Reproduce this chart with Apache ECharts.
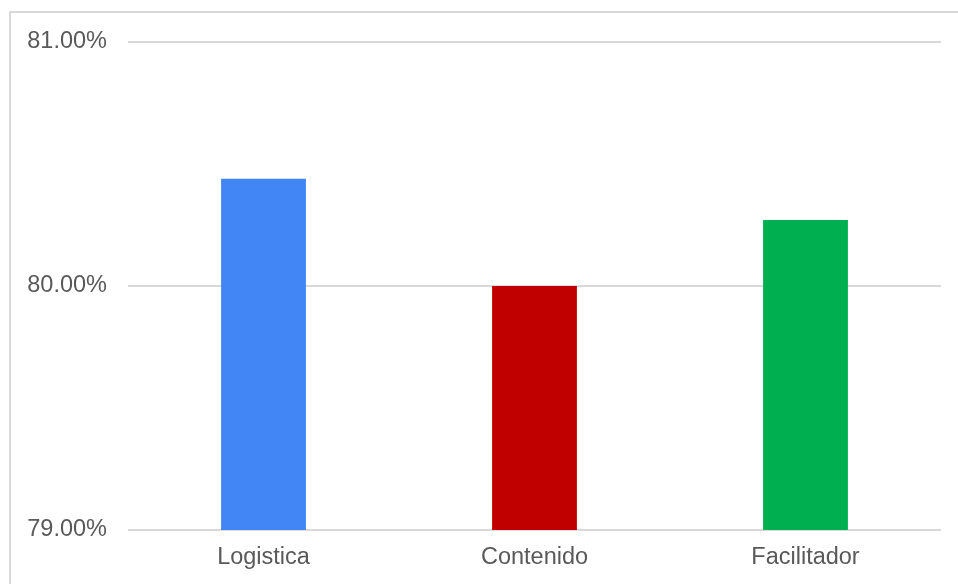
<!DOCTYPE html>
<html>
<head>
<meta charset="utf-8">
<script src="https://cdn.jsdelivr.net/npm/echarts@6/dist/echarts.min.js"></script>
<style>
  html, body { margin: 0; padding: 0; background: #fff; }
  #chart { position: absolute; left: 0; top: 0; width: 958px; height: 584px; }
  #frame { position: absolute; left: 9px; top: 11px; width: 949px; height: 573px;
           border-left: 2px solid #d9d9d9; border-top: 2px solid #d9d9d9; box-sizing: border-box; pointer-events: none; }
</style>
</head>
<body>
<div id="chart"></div>
<div id="frame"></div>
<script>
const categories = ['Logistica', 'Contenido', 'Facilitador'];
const values = [80.44, 80.00, 80.27];
const barColors = ['#4285F4', '#C00000', '#00B050'];
const yTicks = { min: 79, max: 81, interval: 1 };

const chart = echarts.init(document.getElementById('chart'), null, { renderer: 'canvas' });
chart.setOption({
  animation: false,
  backgroundColor: 'transparent',
  grid: { left: 128, right: 17, top: 42, bottom: 54, containLabel: false },
  xAxis: {
    type: 'category',
    data: categories,
    axisLine: { show: false },
    axisTick: { show: false },
    axisLabel: { color: '#595959', fontFamily: 'Liberation Sans, Arial, sans-serif', fontSize: 23.5, margin: 16 }
  },
  yAxis: {
    type: 'value',
    min: yTicks.min,
    max: yTicks.max,
    interval: yTicks.interval,
    axisLine: { show: false },
    axisTick: { show: false },
    splitLine: { lineStyle: { color: '#d9d9d9', width: 2 } },
    axisLabel: {
      color: '#595959', fontFamily: 'Liberation Sans, Arial, sans-serif', fontSize: 23.5, margin: 21,
      verticalAlign: 'middle',
      lineHeight: 24,
      padding: [5, 0, 0, 0],
      formatter: v => v.toFixed(2) + '%'
    }
  },
  series: [{
    type: 'bar',
    barWidth: '31.3%',
    data: values.map((v, i) => ({ value: v, itemStyle: { color: barColors[i] } }))
  }]
});
</script>
</body>
</html>
